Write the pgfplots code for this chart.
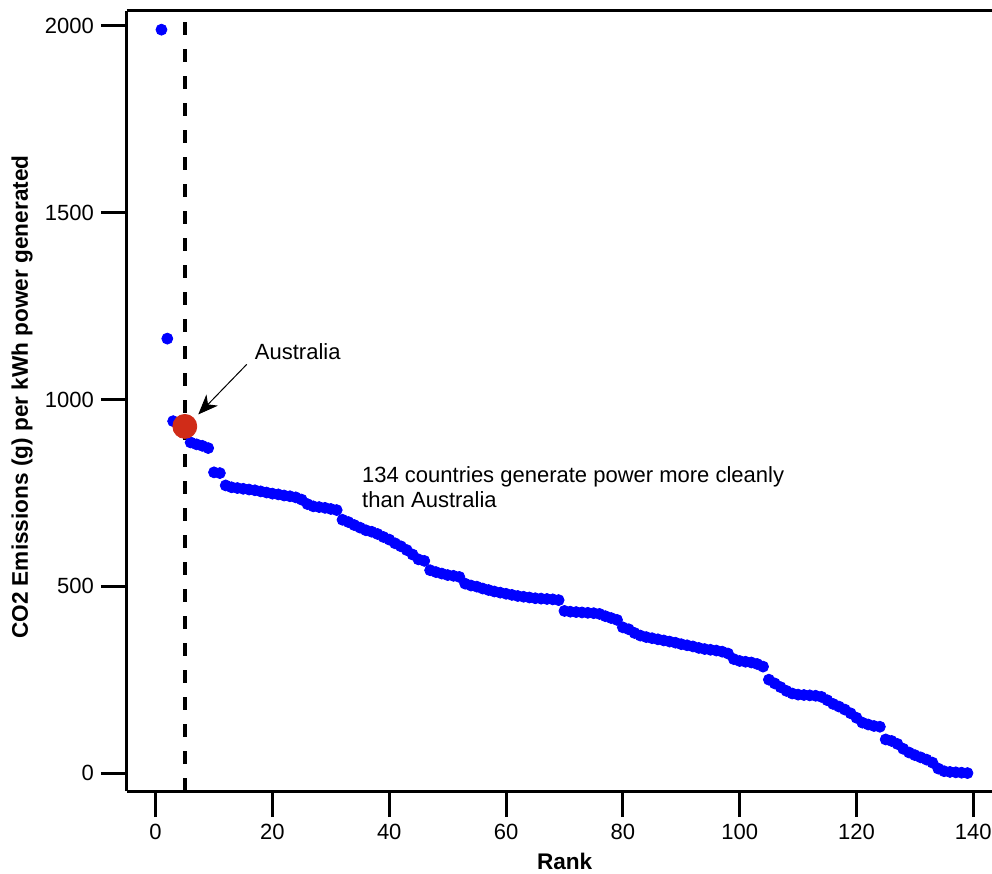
\documentclass[border=0pt]{standalone}
\usepackage{fontspec}
\setmainfont{Liberation Sans}
\usepackage{pgfplots}
\pgfplotsset{compat=1.18}
\usetikzlibrary{arrows.meta}
\definecolor{ozred}{RGB}{208,44,24}

\begin{document}
\begin{tikzpicture}
\begin{axis}[
    scale only axis,
    width=432.5pt, height=390pt,
    xmin=-4.9, xmax=143.2,
    ymin=-48, ymax=2040,
    axis x line*=box, axis y line*=left,
    xtick pos=bottom, ytick pos=left,
    xtick={0,20,...,140},
    ytick={0,500,1000,1500,2000},
    tick align=outside,
    major tick length=13pt,
    axis line style={line width=1.5pt},
    every tick/.style={black, line width=1.5pt},
    tick label style={font=\fontsize{11}{13}\selectfont},
    /pgf/number format/assume math mode=true,
    /pgf/number format/1000 sep={},
    xlabel={\bfseries Rank},
    ylabel={\bfseries CO2 Emissions (g) per kWh power generated},
    label style={font=\fontsize{11.3}{13}\selectfont},
    xlabel style={at={(axis description cs:0.506,0)}, anchor=center, yshift=-35pt},
    ylabel style={at={(axis description cs:0,0.505)}, anchor=center, yshift=52.5pt},
    clip=false,
]
% dashed marker line at Australia's rank
\addplot[black, line width=1.7pt, dash pattern=on 6.5pt off 7pt] coordinates {(5,-48) (5,2040)};

% all other countries
\addplot[only marks, mark=*, mark size=2.75pt, color=blue, mark options={draw=blue, fill=blue}] coordinates {
(1,1990) (2,1163) (3,942) (4,935)
(6,885) (7,880) (8,876) (9,870) (10,805) (11,803) (12,770) (13,765) (14,763) (15,761)
(16,759) (17,757) (18,754) (19,751) (20,748) (21,746) (22,743) (23,741) (24,738) (25,732)
(26,720) (27,714) (28,712) (29,710) (30,707) (31,704) (32,678) (33,672) (34,664) (35,657)
(36,650) (37,646) (38,640) (39,632) (40,625) (41,615) (42,607) (43,597) (44,585) (45,572)
(46,568) (47,543) (48,538) (49,534) (50,530) (51,528) (52,525) (53,507) (54,502) (55,499)
(56,494) (57,490) (58,486) (59,483) (60,480) (61,477) (62,474) (63,472) (64,470) (65,468)
(66,467) (67,466) (68,465) (69,463) (70,434) (71,432) (72,431) (73,430) (74,429) (75,428)
(76,426) (77,420) (78,415) (79,410) (80,390) (81,385) (82,375) (83,368) (84,364) (85,361)
(86,358) (87,355) (88,352) (89,349) (90,345) (91,342) (92,339) (93,335) (94,332) (95,330)
(96,328) (97,325) (98,320) (99,305) (100,300) (101,298) (102,296) (103,292) (104,285) (105,250)
(106,240) (107,230) (108,220) (109,213) (110,210) (111,209) (112,208) (113,207) (114,204) (115,195)
(116,185) (117,178) (118,170) (119,160) (120,148) (121,135) (122,130) (123,126) (124,124) (125,90)
(126,86) (127,78) (128,65) (129,55) (130,48) (131,42) (132,36) (133,28) (134,12) (135,5)
(136,3) (137,2) (138,1) (139,0)
};

% Australia
\addplot[only marks, mark=*, mark size=6pt, color=ozred, mark options={draw=ozred, fill=ozred}] coordinates {(5,928)};

\node[anchor=west, font=\fontsize{11}{13}\selectfont] at (axis cs:15.8,1129) {Australia};
\draw[line width=0.5pt, -{Stealth[length=10pt, width=8pt, inset=3pt]}] (axis cs:15.6,1094) -- (axis cs:7.3,960);
\node[anchor=north west, align=left, inner sep=0pt, font=\fontsize{11}{12.5}\selectfont] at (axis cs:35.3,822)
  {134 countries generate power more cleanly\\than Australia};
\end{axis}
\pgfresetboundingbox
\path ([xshift=-63.5pt, yshift=-41.5pt]current axis.south west) rectangle ([yshift=5.5pt]current axis.north east);
\end{tikzpicture}
\end{document}
